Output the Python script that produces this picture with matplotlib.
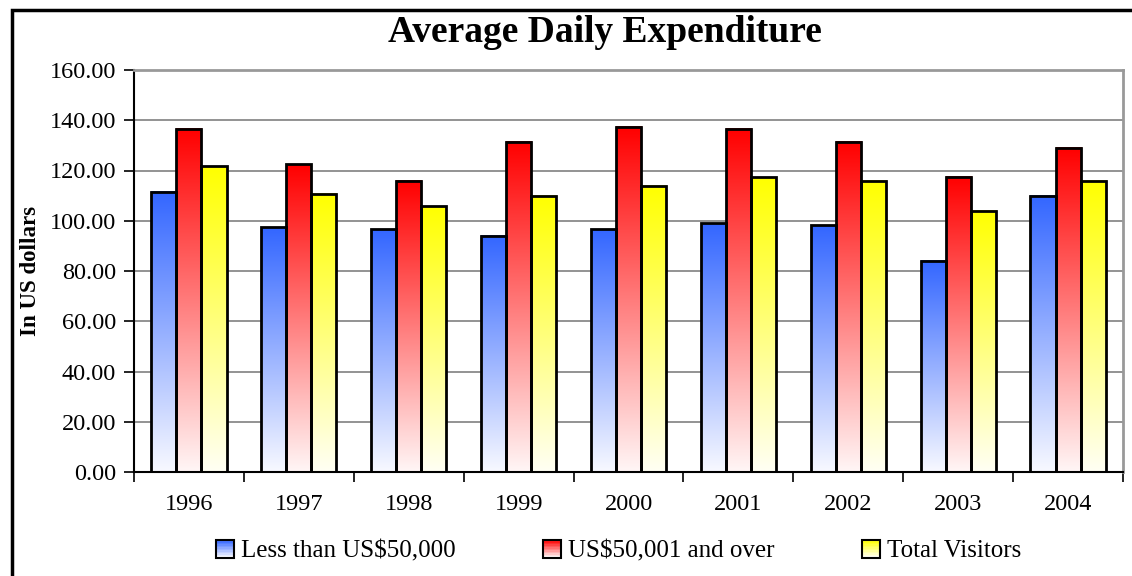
import numpy as np
import matplotlib.pyplot as plt
from matplotlib.colors import LinearSegmentedColormap
from matplotlib.patches import Rectangle
from matplotlib.legend_handler import HandlerBase

plt.rcParams['font.family'] = ['Liberation Serif', 'DejaVu Serif']

years = ['1996', '1997', '1998', '1999', '2000', '2001', '2002', '2003', '2004']
less50k = [111.6, 97.5, 96.6, 94.1, 96.6, 99.1, 98.2, 84.0, 109.9]
over50k = [136.6, 122.4, 116.0, 131.5, 137.5, 136.6, 131.5, 117.5, 129.1]
total = [121.6, 110.7, 105.8, 109.9, 114.0, 117.3, 115.9, 104.0, 115.9]
series_names = ['Less than US$50,000', 'US$50,001 and over', 'Total Visitors']

top_cols = ['#3366ff', '#ff0000', '#ffff00']
bot_cols = ['#f8f9ff', '#fff6f6', '#fffff4']
cmaps = [LinearSegmentedColormap.from_list('g%d' % i, [b, t]) for i, (b, t) in enumerate(zip(bot_cols, top_cols))]

fig = plt.figure(figsize=(11.32, 5.76), dpi=100)
ax = fig.add_axes([134 / 1132, 1 - 472 / 576, 989 / 1132, 402 / 576])

# outer chart frame (cropped on the right and bottom)
fig.patches.append(Rectangle((12 / 1132, -0.2), 1.5, 1.2 - 10 / 576, transform=fig.transFigure,
                             fill=False, edgecolor='black', linewidth=2.5, zorder=0))

x = np.arange(len(years))
w = 0.228
grad = np.linspace(0, 1, 256).reshape(-1, 1)
for i, vals in enumerate([less50k, over50k, total]):
    bars = ax.bar(x + (i - 1) * w, vals, w, fill=False, edgecolor='black', linewidth=2, zorder=3)
    for b in bars:
        x0, y0 = b.get_x(), b.get_y()
        ax.imshow(grad, cmap=cmaps[i], origin='lower', aspect='auto', zorder=2,
                  extent=(x0, x0 + b.get_width(), y0, y0 + b.get_height()))

ax.set_xlim(-0.5, len(years) - 0.5)
ax.set_ylim(0, 160)
ax.set_yticks(np.arange(0, 161, 20))
ax.set_yticklabels(['%.2f' % v for v in np.arange(0, 161, 20)], fontsize=17.5)
ax.set_xticks(x)
ax.set_xticklabels(years, fontsize=17.5)
ax.set_xticks(np.arange(-0.5, len(years)), minor=True)
ax.tick_params(axis='x', which='major', length=0, pad=16)
ax.tick_params(axis='x', which='minor', length=7, width=1.2, direction='out')
ax.tick_params(axis='y', length=7, width=1.2, direction='out', pad=6)
ax.yaxis.grid(True, color='#808080', linewidth=1.2, zorder=1)
ax.set_axisbelow(True)
for s in ['left', 'bottom']:
    ax.spines[s].set_linewidth(1.5)
for s in ['top', 'right']:
    ax.spines[s].set_color('#999999')
    ax.spines[s].set_linewidth(2)

ax.set_ylabel('In US dollars', fontsize=16.5, fontweight='bold', labelpad=6)
fig.text(605 / 1132, 1 - 32 / 576, 'Average Daily Expenditure', ha='center', va='center',
         fontsize=27, fontweight='bold')


class GradHandler(HandlerBase):
    def __init__(self, cmap):
        super().__init__()
        self.cmap = cmap

    def create_artists(self, legend, orig_handle, xdescent, ydescent, width, height, fontsize, trans):
        arts = []
        n = 12
        for k in range(n):
            c = self.cmap(1 - k / (n - 1))
            arts.append(Rectangle((-xdescent, -ydescent + height * (n - 1 - k) / n), width, height / n,
                                  facecolor=c, edgecolor='none', transform=trans))
        arts.append(Rectangle((-xdescent, -ydescent), width, height, fill=False,
                              edgecolor='black', linewidth=1.5, transform=trans))
        return arts


handles = [Rectangle((0, 0), 1, 1) for _ in series_names]
fig.legend(handles, series_names, loc='center', bbox_to_anchor=(619 / 1132, 1 - 551 / 576),
           ncol=3, frameon=False, fontsize=18, handlelength=0.72, handleheight=0.72,
           handletextpad=0.28, columnspacing=3.5,
           handler_map={h: GradHandler(cmaps[i]) for i, h in enumerate(handles)})

fig.savefig('out.png', dpi=100)
